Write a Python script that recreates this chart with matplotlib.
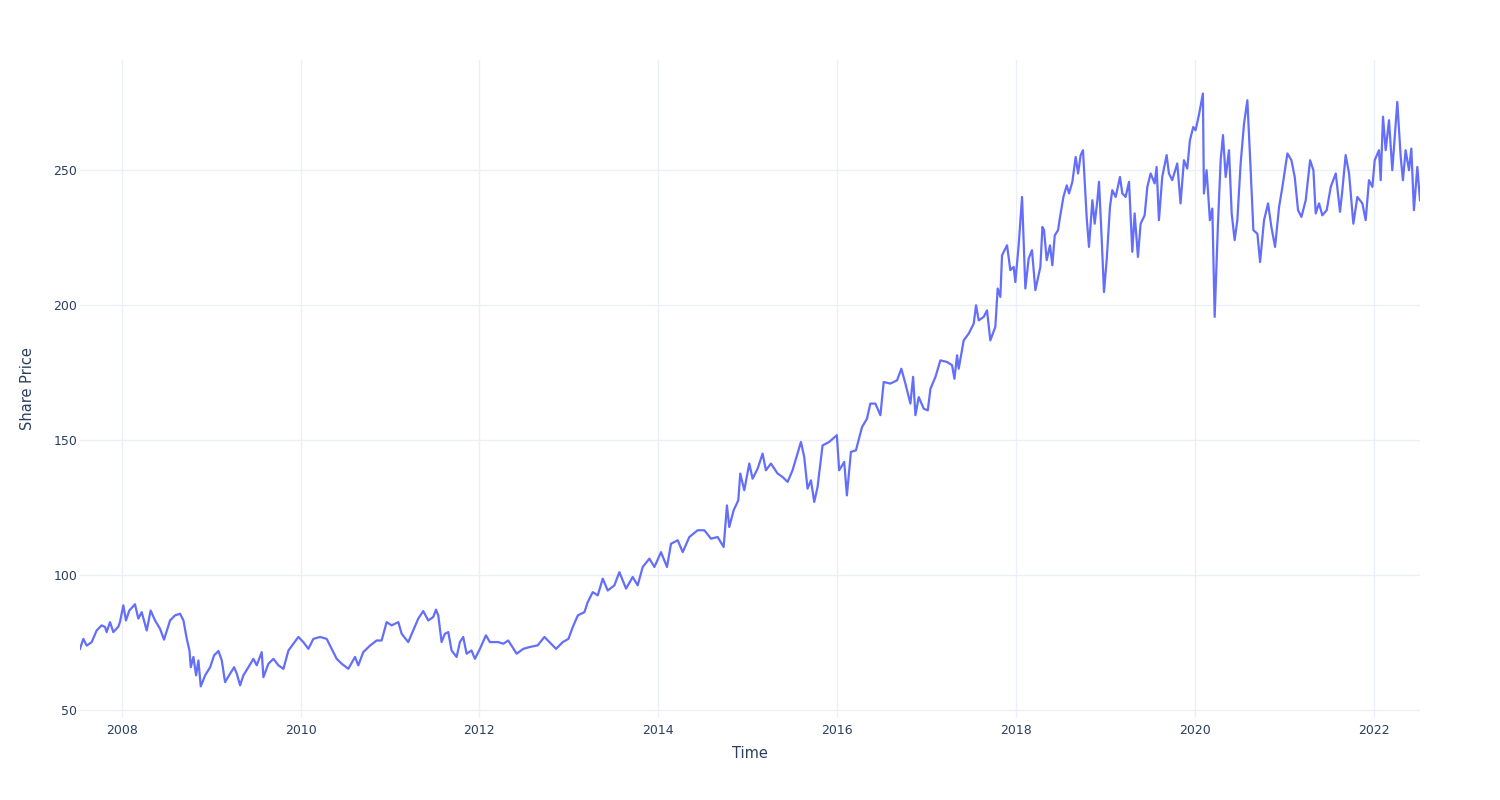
import matplotlib
matplotlib.use("Agg")
import matplotlib.pyplot as plt
import matplotlib.dates as mdates
import pandas as pd

# Share price: decimal year -> price
years = [
    2007.534, 2007.571, 2007.609, 2007.665, 2007.720, 2007.776, 2007.814, 2007.832, 2007.870, 2007.907,
    2007.963, 2007.981, 2008.019, 2008.048, 2008.086, 2008.149, 2008.186, 2008.224, 2008.280, 2008.324,
    2008.373, 2008.429, 2008.473, 2008.540, 2008.596, 2008.652, 2008.690, 2008.727, 2008.757, 2008.772,
    2008.801, 2008.831, 2008.857, 2008.883, 2008.932, 2008.988, 2009.032, 2009.081, 2009.118, 2009.155,
    2009.211, 2009.256, 2009.286, 2009.323, 2009.360, 2009.416, 2009.472, 2009.509, 2009.565, 2009.584,
    2009.640, 2009.696, 2009.752, 2009.808, 2009.864, 2009.919, 2009.975, 2010.031, 2010.087, 2010.143,
    2010.218, 2010.292, 2010.348, 2010.404, 2010.460, 2010.534, 2010.609, 2010.646, 2010.702, 2010.777,
    2010.851, 2010.907, 2010.963, 2011.019, 2011.094, 2011.131, 2011.205, 2011.261, 2011.317, 2011.373,
    2011.429, 2011.485, 2011.515, 2011.541, 2011.578, 2011.615, 2011.653, 2011.690, 2011.746, 2011.783,
    2011.820, 2011.858, 2011.913, 2011.951, 2012.007, 2012.074, 2012.119, 2012.212, 2012.268, 2012.323,
    2012.417, 2012.491, 2012.566,
    2012.652, 2012.727, 2012.783, 2012.857, 2012.932, 2012.995, 2013.044, 2013.100, 2013.174, 2013.211,
    2013.267, 2013.323, 2013.379, 2013.435, 2013.509, 2013.565, 2013.640, 2013.714, 2013.770, 2013.826,
    2013.901, 2013.957, 2014.031, 2014.098, 2014.143, 2014.218, 2014.274, 2014.348, 2014.441, 2014.516,
    2014.590, 2014.665, 2014.732, 2014.769, 2014.795, 2014.844, 2014.896, 2014.918, 2014.963, 2015.019,
    2015.056, 2015.112, 2015.168, 2015.205, 2015.261, 2015.336, 2015.392, 2015.448, 2015.503, 2015.559,
    2015.597, 2015.634, 2015.671, 2015.709, 2015.746, 2015.783, 2015.839, 2015.913, 2015.999, 2016.025,
    2016.081, 2016.111, 2016.156, 2016.212,
    2016.280, 2016.335, 2016.373, 2016.429, 2016.485, 2016.522, 2016.596, 2016.671, 2016.719, 2016.764,
    2016.820, 2016.850, 2016.876, 2016.913, 2016.969, 2017.014, 2017.044, 2017.100, 2017.155, 2017.230,
    2017.286, 2017.312, 2017.342, 2017.360, 2017.416, 2017.472, 2017.528, 2017.554, 2017.584, 2017.640,
    2017.677, 2017.714, 2017.770, 2017.796, 2017.826, 2017.845, 2017.901, 2017.938, 2017.975, 2017.994,
    2018.031, 2018.069, 2018.106, 2018.143, 2018.180, 2018.218, 2018.274,
    2018.297, 2018.315, 2018.345, 2018.382, 2018.408, 2018.435, 2018.472, 2018.494, 2018.532, 2018.569,
    2018.595, 2018.632, 2018.669, 2018.696, 2018.725, 2018.751, 2018.774, 2018.792, 2018.818, 2018.856,
    2018.882, 2018.912, 2018.930, 2018.956, 2018.986, 2019.016, 2019.053, 2019.079, 2019.117, 2019.165,
    2019.191, 2019.228, 2019.266, 2019.303, 2019.329, 2019.366, 2019.396, 2019.441, 2019.471, 2019.508,
    2019.553, 2019.575, 2019.601, 2019.638, 2019.687, 2019.713, 2019.750,
    2019.806, 2019.843, 2019.881, 2019.918, 2019.948, 2019.985, 2020.011, 2020.048, 2020.093, 2020.104,
    2020.134, 2020.171, 2020.198, 2020.224, 2020.261, 2020.291, 2020.317, 2020.347, 2020.384, 2020.414,
    2020.447, 2020.477, 2020.514, 2020.552, 2020.589, 2020.626, 2020.656, 2020.701, 2020.731, 2020.775,
    2020.820, 2020.857, 2020.898, 2020.943, 2020.980, 2021.036, 2021.081, 2021.118, 2021.155, 2021.193,
    2021.241, 2021.290, 2021.327, 2021.353, 2021.390, 2021.427, 2021.476, 2021.521, 2021.577, 2021.625,
    2021.651, 2021.688, 2021.726, 2021.774, 2021.819, 2021.875, 2021.912, 2021.949, 2021.987, 2022.013,
    2022.061, 2022.080, 2022.106, 2022.136, 2022.173, 2022.210, 2022.266, 2022.304, 2022.329, 2022.359,
    2022.397, 2022.423, 2022.452, 2022.490, 2022.520,
]

prices = [
    72.8, 76.5, 74.0, 75.3, 79.6, 81.5, 80.9, 79.0, 82.7, 79.0,
    81.0, 82.7, 88.9, 83.3, 87.0, 89.3, 84.0, 86.4, 79.6, 87.0,
    83.3, 80.2, 76.2, 83.3, 85.2, 85.8, 83.3, 76.5, 72.2, 66.0,
    69.8, 63.0, 68.5, 58.9, 63.0, 66.0, 70.4, 72.0, 68.5, 60.5,
    63.6, 66.0, 63.6, 59.3, 63.0, 66.0, 69.1, 66.7, 71.6, 62.3,
    67.3, 69.1, 66.7, 65.4, 72.2, 74.7, 77.2, 75.3, 72.8, 76.5,
    77.2, 76.5, 72.8, 69.1, 67.3, 65.4, 69.8, 66.7, 71.6, 74.0,
    75.9, 75.9, 82.7, 81.5, 82.7, 78.4, 75.3, 79.6, 84.0, 86.8,
    83.3, 84.6, 87.3, 85.2, 75.3, 78.4, 79.0, 72.2, 69.8, 75.3,
    77.2, 71.0, 72.2, 69.1, 72.8, 77.8, 75.3, 75.3, 74.7, 75.9,
    71.0, 72.8, 73.5,
    74.1, 77.2, 75.3, 72.8, 75.3, 76.5, 80.9, 85.2, 86.4, 90.1,
    93.8, 92.6, 98.8, 94.4, 96.3, 101.2, 95.1, 99.4, 96.3, 103.1,
    106.2, 103.1, 108.6, 103.1, 111.7, 113.0, 108.6, 114.2, 116.7, 116.7,
    113.6, 114.2, 110.5, 125.9, 117.9, 124.1, 127.8, 137.7, 131.5, 141.4,
    135.8, 139.5, 145.1, 138.9, 141.4, 137.7, 136.4, 134.6, 138.9, 145.1,
    149.4, 143.8, 132.1, 135.2, 127.2, 132.7, 148.1, 149.4, 151.9, 138.9,
    142.0, 129.6, 145.7, 146.3,
    154.9, 158.0, 163.6, 163.6, 159.3, 171.6, 171.0, 172.2, 176.5, 171.0,
    163.6, 173.5, 159.3, 166.0, 161.7, 161.1, 169.1, 173.5, 179.6, 179.0,
    177.8, 172.8, 181.5, 176.5, 187.0, 189.5, 193.2, 200.0, 194.4, 195.7,
    198.1, 187.0, 192.0, 206.2, 203.1, 218.5, 222.2, 213.0, 214.2, 208.6,
    222.2, 240.1, 206.2, 217.3, 220.4, 205.6, 214.2,
    229.0, 227.8, 216.7, 222.2, 214.8, 225.9, 227.8, 232.7, 240.1, 244.4,
    241.4, 245.7, 254.9, 248.8, 255.6, 257.4, 243.8, 232.7, 221.6, 238.9,
    230.2, 238.9, 245.7, 227.8, 204.9, 216.7, 236.4, 242.6, 240.1, 247.5,
    241.4, 240.1, 245.7, 219.8, 234.0, 217.9, 230.2, 233.3, 243.8, 248.8,
    245.1, 251.2, 231.5, 247.5, 255.6, 248.8, 246.3,
    252.5, 237.7, 253.7, 250.6, 261.1, 266.0, 264.8, 270.4, 278.4, 241.4,
    250.0, 231.5, 235.8, 195.7, 230.2, 253.7, 263.0, 247.5, 257.4, 234.0,
    224.1, 231.5, 252.5, 267.3, 275.9, 250.0, 227.8, 226.5, 216.0, 231.5,
    237.7, 229.0, 221.6, 236.4, 243.8, 256.2, 253.7, 247.5, 235.2, 232.7,
    238.9, 253.7, 250.0, 234.0, 237.7, 233.3, 235.2, 243.8, 248.8, 234.6,
    242.6, 255.6, 248.8, 230.2, 240.1, 237.7, 231.5, 246.3, 243.8, 253.7,
    257.4, 246.3, 269.8, 257.4, 268.5, 250.0, 275.3, 254.9, 246.3, 257.4,
    250.0, 258.0, 235.2, 251.2, 238.9,
]

y_ticks = [50, 100, 150, 200, 250]
x_tick_years = [2008, 2010, 2012, 2014, 2016, 2018, 2020, 2022]


def to_date(y):
    start = pd.Timestamp(year=int(y), month=1, day=1)
    end = pd.Timestamp(year=int(y) + 1, month=1, day=1)
    return start + (end - start) * (y - int(y))


dates = [to_date(y) for y in years]
df = pd.DataFrame({"Time": dates, "Share Price": prices})

text_color = "#2a3f5f"
grid_color = "#ebf0f8"

fig = plt.figure(figsize=(15, 8), dpi=100)
ax = fig.add_axes([80 / 1500, 1 - 718 / 800, 1340 / 1500, 658 / 800])

ax.plot(df["Time"], df["Share Price"], color="#636efa", linewidth=1.6, solid_joinstyle="round")

ax.set_xlim(df["Time"].iloc[0], df["Time"].iloc[-1])
ax.set_ylim(47.2, 290.8)

ax.set_yticks(y_ticks)
ax.set_xticks([pd.Timestamp(year=y, month=1, day=1) for y in x_tick_years])
ax.xaxis.set_major_formatter(mdates.DateFormatter("%Y"))

ax.grid(True, color=grid_color, linewidth=1)
ax.set_axisbelow(True)
for s in ax.spines.values():
    s.set_visible(False)
ax.tick_params(axis="both", length=0, labelsize=9, labelcolor=text_color)
ax.tick_params(axis="x", pad=4)
ax.tick_params(axis="y", pad=2)

ax.set_xlabel("Time", fontsize=10.5, color=text_color, labelpad=7)
ax.set_ylabel("Share Price", fontsize=10.5, color=text_color, labelpad=13)

fig.savefig("out.png", dpi=100, facecolor="white")
